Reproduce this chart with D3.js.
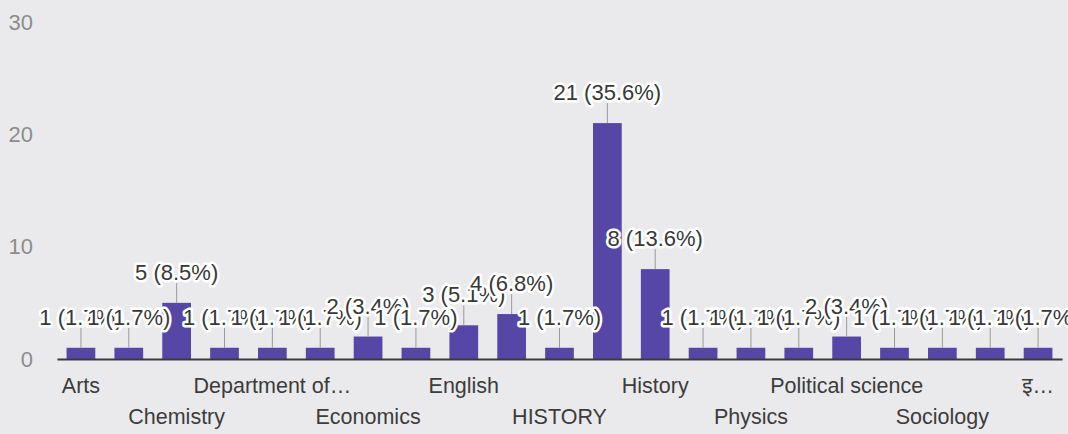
<!DOCTYPE html>
<html>
<head>
<meta charset="utf-8">
<script src="https://cdn.jsdelivr.net/npm/d3@7/dist/d3.min.js"></script>
<style>
  html, body { margin: 0; padding: 0; background: #e9e9eb; }
  svg { display: block; font-family: "Liberation Sans", Arial, "Noto Sans", sans-serif; }
</style>
</head>
<body>
<svg id="chart" width="1068" height="434"></svg>
<script>
// Responses per department
const categories = [
  "Arts", "Botany", "Chemistry", "Commerce", "Department of History",
  "Drawing", "Economics", "Education", "English", "Geography",
  "HISTORY", "Hindi", "History", "Mathematics", "Physics",
  "Political Science", "Political science", "Psychology", "Sociology", "Zoology",
  "इतिहास"
];
const counts = [1, 1, 5, 1, 1, 1, 2, 1, 3, 4, 1, 21, 8, 1, 1, 1, 2, 1, 1, 1, 1];
const yTicks = [0, 10, 20, 30];

const W = 1068, H = 434;
const svg = d3.select("#chart");

svg.append("rect").attr("width", W).attr("height", H).attr("fill", "#eaeaec");

const total = d3.sum(counts);
const data = categories.map((c, i) => ({ cat: c, v: counts[i], i }));

const x = d3.scaleBand()
  .domain(categories)
  .range([57, 1062])
  .paddingInner(0.4)
  .paddingOuter(0.2);

const y = d3.scaleLinear().domain([0, 30]).range([359, 22]);

// Y axis labels
const yAxis = svg.append("g")
  .attr("transform", "translate(36,0)")
  .call(d3.axisLeft(y).tickValues(yTicks).tickSize(0).tickPadding(3));
yAxis.select(".domain").remove();
yAxis.selectAll("text")
  .attr("fill", "#8c8c8c")
  .style("font-size", "22px")
  .style("font-family", "'Liberation Sans', Arial, sans-serif");

// Bars
svg.append("g").selectAll("rect")
  .data(data)
  .join("rect")
  .attr("x", d => x(d.cat))
  .attr("y", d => y(d.v))
  .attr("width", x.bandwidth())
  .attr("height", d => y(0) - y(d.v))
  .attr("fill", "#5646a6");

// X axis: baseline plus every second category, alternating rows
const maxLabelW = 3.4 * x.step();
const xAxis = svg.append("g")
  .attr("transform", `translate(0,${y(0)})`)
  .call(d3.axisBottom(x).tickSize(0).tickSizeOuter(0).tickPadding(0)
    .tickFormat((d, i) => i % 2 === 0 ? d : ""));
xAxis.select(".domain").attr("stroke", "#3a3a3a").attr("stroke-width", 2);
xAxis.selectAll(".tick text")
  .attr("fill", "#3c3c3c")
  .style("font-size", "21.5px")
  .style("font-family", "'Liberation Sans', Arial, 'Noto Sans', sans-serif")
  .attr("y", (d, i) => (i / 2) % 2 === 0 ? 34 : 65)
  .attr("dy", 0)
  .each(function (d) {
    const t = d3.select(this);
    const full = t.text();
    if (!full) return;
    const cx = x(d) + x.bandwidth() / 2;
    const limit = Math.min(maxLabelW, 2 * (W - 12 - cx));
    if (this.getComputedTextLength() <= limit) return;
    let s = full;
    while (s.length > 1) {
      s = s.slice(0, -1);
      t.text(s.trimEnd() + "…");
      if (this.getComputedTextLength() <= limit) break;
    }
  });

// Annotation stems
svg.append("g").selectAll("line")
  .data(data)
  .join("line")
  .attr("x1", d => x(d.cat) + x.bandwidth() / 2)
  .attr("x2", d => x(d.cat) + x.bandwidth() / 2)
  .attr("y1", d => y(d.v))
  .attr("y2", d => y(d.v) - 20)
  .attr("stroke", "#9a9a9a")
  .attr("stroke-width", 1);

// Value annotations with white halo, drawn left to right
svg.append("g").selectAll("text")
  .data(data)
  .join("text")
  .attr("x", d => x(d.cat) + x.bandwidth() / 2)
  .attr("y", d => y(d.v) - 23)
  .attr("text-anchor", "middle")
  .attr("fill", "#383838")
  .attr("stroke", "#ffffff")
  .attr("stroke-width", 5)
  .attr("stroke-linejoin", "round")
  .attr("paint-order", "stroke")
  .style("font-size", "22px")
  .text(d => `${d.v} (${(d.v / total * 100).toFixed(1)}%)`);
</script>
</body>
</html>
